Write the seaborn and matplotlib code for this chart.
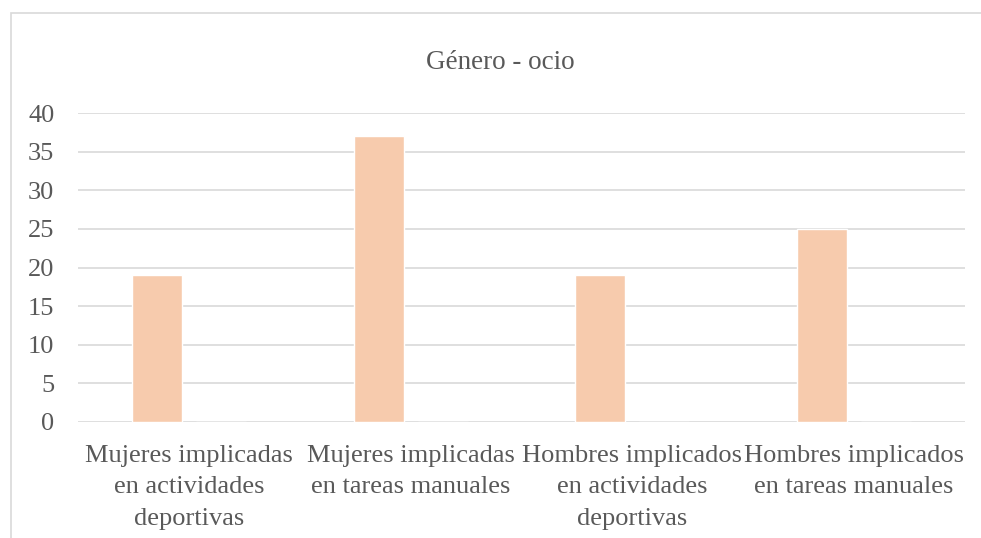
import matplotlib
matplotlib.use("Agg")
import matplotlib.pyplot as plt
import seaborn as sns
import pandas as pd
from matplotlib.patches import Rectangle

categories = [
    "Mujeres implicadas\nen actividades\ndeportivas",
    "Mujeres implicadas\nen tareas manuales",
    "Hombres implicados\nen actividades\ndeportivas",
    "Hombres implicados\nen tareas manuales",
]
values = [19, 37, 19, 25]
series = ["Serie 1", "Serie 2"]
empty_values = [0, 0, 0, 0]
yticks = [0, 5, 10, 15, 20, 25, 30, 35, 40]
title = "Género - ocio"

df = pd.DataFrame({
    "cat": categories * 2,
    "val": values + empty_values,
    "serie": [series[0]] * 4 + [series[1]] * 4,
})

sns.set_theme(style="white")
plt.rcParams["font.family"] = ["Liberation Serif", "DejaVu Serif"]

W, H = 981, 538
fig = plt.figure(figsize=(W / 100, H / 100), dpi=100)
ax = fig.add_axes([78 / W, (H - 422) / H, (965 - 78) / W, (422 - 113) / H])

sns.barplot(data=df, x="cat", y="val", hue="serie", order=categories,
            palette=["#F7CBAD", "#A5A5A5"], width=0.577, gap=0.22,
            saturation=1, legend=False, ax=ax, zorder=3)

ax.set_ylim(0, 40)
ax.set_xlim(-0.5, 3.5)
ax.set_yticks(yticks)
ax.yaxis.grid(True, color="#D9D9D9", linewidth=1.2, zorder=0)
ax.set_axisbelow(True)
for s in ax.spines.values():
    s.set_visible(False)
ax.set_xlabel("")
ax.set_ylabel("")
ax.tick_params(axis="y", length=0, pad=17, labelsize=19, labelcolor="#595959")
ax.tick_params(axis="x", length=0, pad=16.5, labelsize=19, labelcolor="#595959")
for lab in ax.get_xticklabels():
    lab.set_linespacing(1.55)

fig.text(500 / W, 1 - 69 / H, title, ha="center", va="baseline",
         fontsize=19.5, color="#595959")

fig.patches.append(Rectangle((11 / W, -0.05), 1.2, (H - 13) / H + 0.05,
                             transform=fig.transFigure, fill=False,
                             edgecolor="#D9D9D9", linewidth=1.2))

fig.savefig("out.png", dpi=100)
